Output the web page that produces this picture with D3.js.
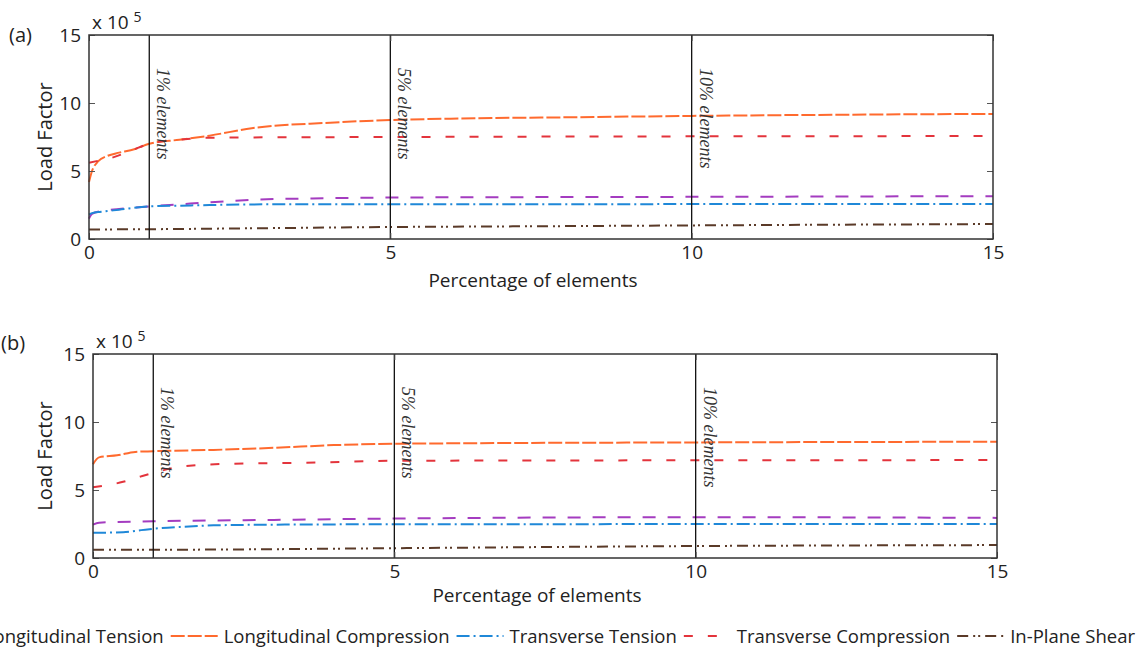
<!DOCTYPE html>
<html><head><meta charset="utf-8">
<script src="https://cdn.jsdelivr.net/npm/d3@7"></script>
<style>
html,body{margin:0;padding:0;background:#fff;}
svg{display:block;}
text{font-family:"Open Sans","Noto Sans",sans-serif;fill:#222;}
</style></head><body>
<svg id="chart" width="1141" height="648"></svg>
<script>
// ---------- data ----------
const seriesNames = ["Longitudinal Tension","Longitudinal Compression","Transverse Tension","Transverse Compression","In-Plane Shear"];
const seriesColors = ["#a43cc0","#ff6a2e","#1f88d8","#e3343c","#5a3a28"];
const seriesDash = ["13,12","14,3","13,4,2,4","9,15","11,5,2,3,2,5"];

const xTicks = [0,5,10,15];
const yTicks = [0,5,10,15];
const markerX = [1,5,10];
const markerLabels = ["1% elements","5% elements","10% elements"];

// panel (a) values (units of 1e5)
const a_longTension = [[0,1.5],[0.05,1.85],[0.2,2.05],[0.5,2.2],[1,2.4],[1.5,2.55],[2,2.7],[2.7,2.88],[4,3.0],[5,3.05],[10,3.1],[15,3.15]];
const a_longCompression = [[0,4.2],[0.05,5.0],[0.15,5.7],[0.3,6.1],[0.5,6.35],[0.75,6.6],[1,7.0],[1.5,7.3],[2,7.6],[2.7,8.15],[4,8.55],[5,8.75],[6,8.85],[8,8.95],[10,9.05],[15,9.2]];
const a_transTension = [[0,1.8],[0.05,1.9],[0.2,2.0],[0.5,2.15],[1,2.4],[1.5,2.45],[2,2.5],[3,2.55],[15,2.57]];
const a_transCompression = [[0,5.6],[0.2,5.8],[0.4,6.0],[0.7,6.5],[1,7.0],[1.5,7.3],[2,7.45],[5,7.5],[15,7.57]];
const a_shear = [[0,0.7],[1,0.72],[3,0.8],[5,0.88],[8,0.95],[10,1.0],[15,1.1]];

// panel (b) values (units of 1e5)
const b_longTension = [[0,2.45],[0.1,2.6],[1,2.7],[3,2.8],[5,2.9],[10,3.0],[15,2.95]];
const b_longCompression = [[0,6.9],[0.1,7.4],[0.4,7.55],[0.7,7.8],[1,7.85],[2,7.95],[3,8.1],[4,8.3],[5,8.4],[10,8.5],[15,8.55]];
const b_transTension = [[0,1.85],[0.5,1.9],[0.8,2.05],[1,2.15],[1.5,2.3],[2,2.4],[3,2.45],[5,2.48],[15,2.5]];
const b_transCompression = [[0,5.2],[0.5,5.6],[0.8,6.0],[1,6.25],[1.5,6.75],[2.5,6.95],[3.5,7.0],[5,7.15],[15,7.2]];
const b_shear = [[0,0.6],[2,0.62],[5,0.72],[10,0.88],[15,0.95]];

const panels = [
  {tag:"(a)", series:[a_longTension,a_longCompression,a_transTension,a_transCompression,a_shear],
   box:{x0:89,x1:993,y0:35,y1:239}, tagPos:[9,42], xtitleY:287},
  {tag:"(b)", series:[b_longTension,b_longCompression,b_transTension,b_transCompression,b_shear],
   box:{x0:93,x1:997,y0:354,y1:558}, tagPos:[1,350], xtitleY:602}
];

const svg = d3.select("#chart");

panels.forEach(p => {
  const b = p.box;
  const x = d3.scaleLinear().domain([0,15]).range([b.x0,b.x1]);
  const y = d3.scaleLinear().domain([0,15]).range([b.y1,b.y0]);
  const g = svg.append("g");

  // lines
  const line = d3.line().x(d=>x(d[0])).y(d=>y(d[1])).curve(d3.curveMonotoneX);
  p.series.forEach((s,i)=>{
    g.append("path").attr("d", line(s)).attr("fill","none")
      .attr("stroke", seriesColors[i]).attr("stroke-width",2)
      .attr("stroke-dasharray", seriesDash[i]);
  });

  // vertical markers
  markerX.forEach((m,i)=>{
    g.append("line").attr("x1",x(m)).attr("x2",x(m)).attr("y1",b.y0).attr("y2",b.y1)
      .attr("stroke","#111").attr("stroke-width",1.3);
    g.append("text").attr("transform",`translate(${x(m)+8},${b.y0+33}) rotate(90)`)
      .style("font-family","'Liberation Serif','DejaVu Serif',serif").style("font-style","italic")
      .style("font-size","18px").style("fill","#333").text(markerLabels[i]);
  });

  // axes
  const yAxisL = d3.axisLeft(y).tickValues(yTicks).tickSize(-6).tickPadding(8);
  const yAxisR = d3.axisRight(y).tickValues(yTicks).tickSize(-6).tickFormat("");
  const xAxisB = d3.axisBottom(x).tickValues(xTicks).tickSize(-6).tickPadding(6);
  const xAxisT = d3.axisTop(x).tickValues(xTicks).tickSize(-6).tickFormat("");
  const styleAxis = sel => {
    sel.select(".domain").remove();
    sel.selectAll("line").attr("stroke","#555").attr("stroke-width",1);
    sel.selectAll("text").style("font-family","'Open Sans',sans-serif").style("font-size","19px").attr("fill","#222");
  };
  g.append("g").attr("transform",`translate(${b.x0},0)`).call(yAxisL).call(styleAxis);
  g.append("g").attr("transform",`translate(${b.x1},0)`).call(yAxisR).call(styleAxis);
  g.append("g").attr("transform",`translate(0,${b.y1})`).call(xAxisB).call(styleAxis);
  g.append("g").attr("transform",`translate(0,${b.y0})`).call(xAxisT).call(styleAxis);

  // frame
  g.append("rect").attr("x",b.x0).attr("y",b.y0).attr("width",b.x1-b.x0).attr("height",b.y1-b.y0)
    .attr("fill","none").attr("stroke","#333").attr("stroke-width",1.5);

  // exponent
  const ex = g.append("text").attr("x",b.x0+3).attr("y",b.y0-6).style("font-size","19px");
  ex.append("tspan").text("x 10");
  ex.append("tspan").attr("dx",5).attr("dy",-7).style("font-size","14px").text("5");

  // panel tag
  g.append("text").attr("x",p.tagPos[0]).attr("y",p.tagPos[1]).style("font-size","20px").text(p.tag);

  // axis titles
  g.append("text").attr("transform",`translate(52,${(b.y0+b.y1)/2}) rotate(-90)`)
    .attr("text-anchor","middle").style("font-size","20px").text("Load Factor");
  g.append("text").attr("x",(b.x0+b.x1)/2 - 8).attr("y",p.xtitleY)
    .attr("text-anchor","middle").style("font-size","19px").text("Percentage of elements");
});

// legend
const leg = svg.append("g");
let cx = 0;
seriesNames.forEach((n,i)=>{
  const it = leg.append("g");
  it.append("line").attr("x1",0).attr("x2",47).attr("y1",0).attr("y2",0)
    .attr("stroke",seriesColors[i]).attr("stroke-width",2).attr("stroke-dasharray",seriesDash[i]);
  const t = it.append("text").attr("x",53).attr("y",7).style("font-size","18.5px").text(n);
  const w = 53 + t.node().getComputedTextLength();
  it.attr("transform",`translate(${cx},636)`);
  cx += w + 7;
});
const total = cx - 7;
leg.attr("transform",`translate(${1135-total},0)`);
</script>
</body></html>
